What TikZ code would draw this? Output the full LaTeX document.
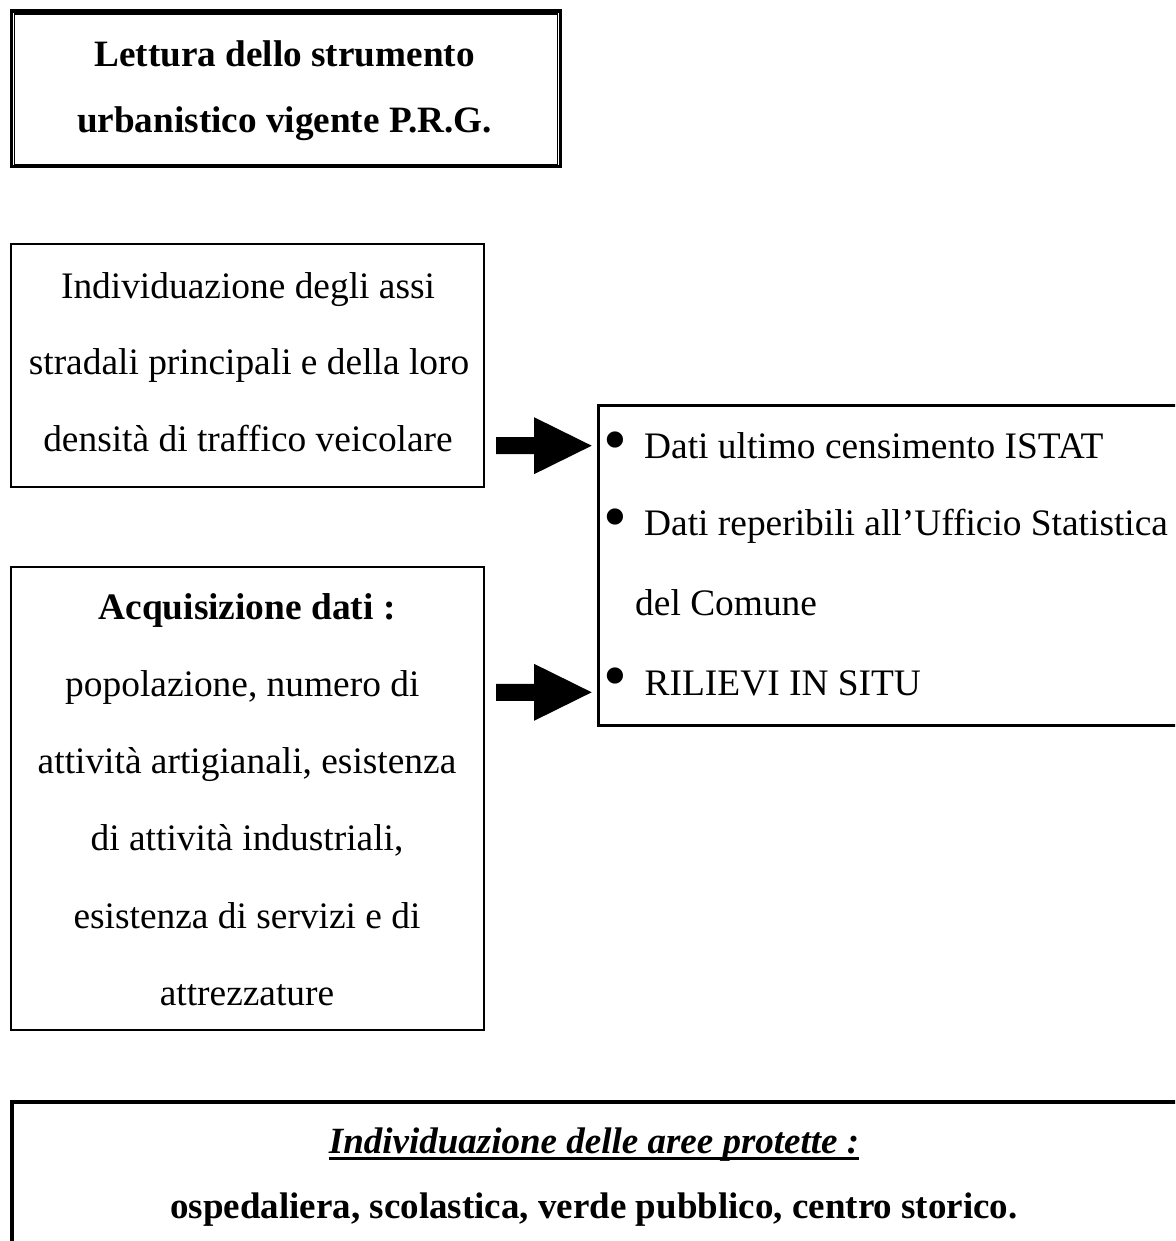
\documentclass[tikz,border=0pt]{standalone}
\usepackage{fontspec}
\setmainfont{Liberation Serif}
\usetikzlibrary{calc}
\tikzset{
  boxnode/.style={draw, line width=2pt, inner sep=0pt, anchor=north west},
  bodytext/.style={anchor=base, inner sep=0pt, font=\fontsize{37.4}{40}\selectfont},
  listtext/.style={anchor=base west, inner sep=0pt, font=\fontsize{37.4}{40}\selectfont},
  titletext/.style={anchor=base, inner sep=0pt, font=\fontsize{37.2}{40}\selectfont\bfseries},
  bottomtext/.style={anchor=base, inner sep=0pt, font=\fontsize{37}{40}\selectfont\bfseries},
  bulletmark/.style={inner sep=0pt, font=\fontsize{68}{68}\selectfont},
  blockarr/.pic={\fill (0,-8.5) -- (38,-8.5) -- (38,-28.5) -- (95.7,0) -- (38,28.5) -- (38,8.5) -- (0,8.5) -- cycle;}
}
\begin{document}
\begin{tikzpicture}[x=1pt,y=-1pt]
\clip (0,0) rectangle (1175,1241);
\fill[white] (0,0) rectangle (1175,1241);

% top title box (double border)
\node[boxnode, line width=3.2pt, minimum width=549.4pt, minimum height=155.5pt] (tb) at (9.8,9.5) {};
\draw[line width=1.3pt] ($(tb.north west)+(4.6,4.5)$) rectangle ($(tb.south east)+(-5,-3.2)$);
\node[titletext] (tba) at (284.6,67) {Lettura dello strumento};
\node[titletext] (tbb) at (284.6,133) {urbanistico vigente P.R.G.};

% box 2
\node[boxnode, minimum width=473pt, minimum height=243pt] (b2) at (10,243) {};
\node[bodytext] (b2a) at (248,298) {Individuazione degli assi};
\node[bodytext] (b2b) at (249,374.5) {stradali principali e della loro};
\node[bodytext] (b2c) at (248,451) {densità di traffico veicolare};

% box 3
\node[boxnode, minimum width=473pt, minimum height=463pt] (b3) at (10,566) {};
\node[bodytext, font=\fontsize{37.4}{40}\selectfont\bfseries] (b3a) at (247,619) {Acquisizione dati :};
\node[bodytext] (b3b) at (242.3,696) {popolazione, numero di};
\node[bodytext] (b3c) at (247,773) {attività artigianali, esistenza};
\node[bodytext] (b3d) at (247,850) {di attività industriali,};
\node[bodytext] (b3e) at (247,928) {esistenza di servizi e di};
\node[bodytext] (b3f) at (247,1005) {attrezzature};

% list box
\node[boxnode, line width=3pt, minimum width=700pt, minimum height=320pt] (lst) at (596.5,403.5) {};
\node[bulletmark] (bu1) at (615.5,447.5) {•};
\node[listtext] (l1) at (644,458) {Dati ultimo censimento ISTAT};
\node[bulletmark] (bu2) at (615.5,524) {•};
\node[listtext] (l2) at (644,535) {Dati reperibili all’Ufficio Statistica};
\node[listtext] (l3) at (635,615) {del Comune};
\node[bulletmark] (bu3) at (615.5,683) {•};
\node[listtext] (l4) at (644.5,695) {RILIEVI IN SITU};

% block arrows
\pic at (496,445.7) {blockarr};
\pic at (496,692.3) {blockarr};

% bottom box
\node[boxnode, line width=4pt, minimum width=1200pt, minimum height=300pt] (ab) at (10.3,1100) {};
\node[bottomtext, font=\fontsize{37}{40}\selectfont\bfseries\itshape] (abt) at (594,1153) {Individuazione delle aree protette :};
\draw[line width=3pt] ($(abt.base west)+(0,5.5)$) -- ($(abt.base east)+(0,5.5)$);
\node[bottomtext] (abl) at (594,1218) {ospedaliera, scolastica, verde pubblico, centro storico.};
\end{tikzpicture}
\end{document}
